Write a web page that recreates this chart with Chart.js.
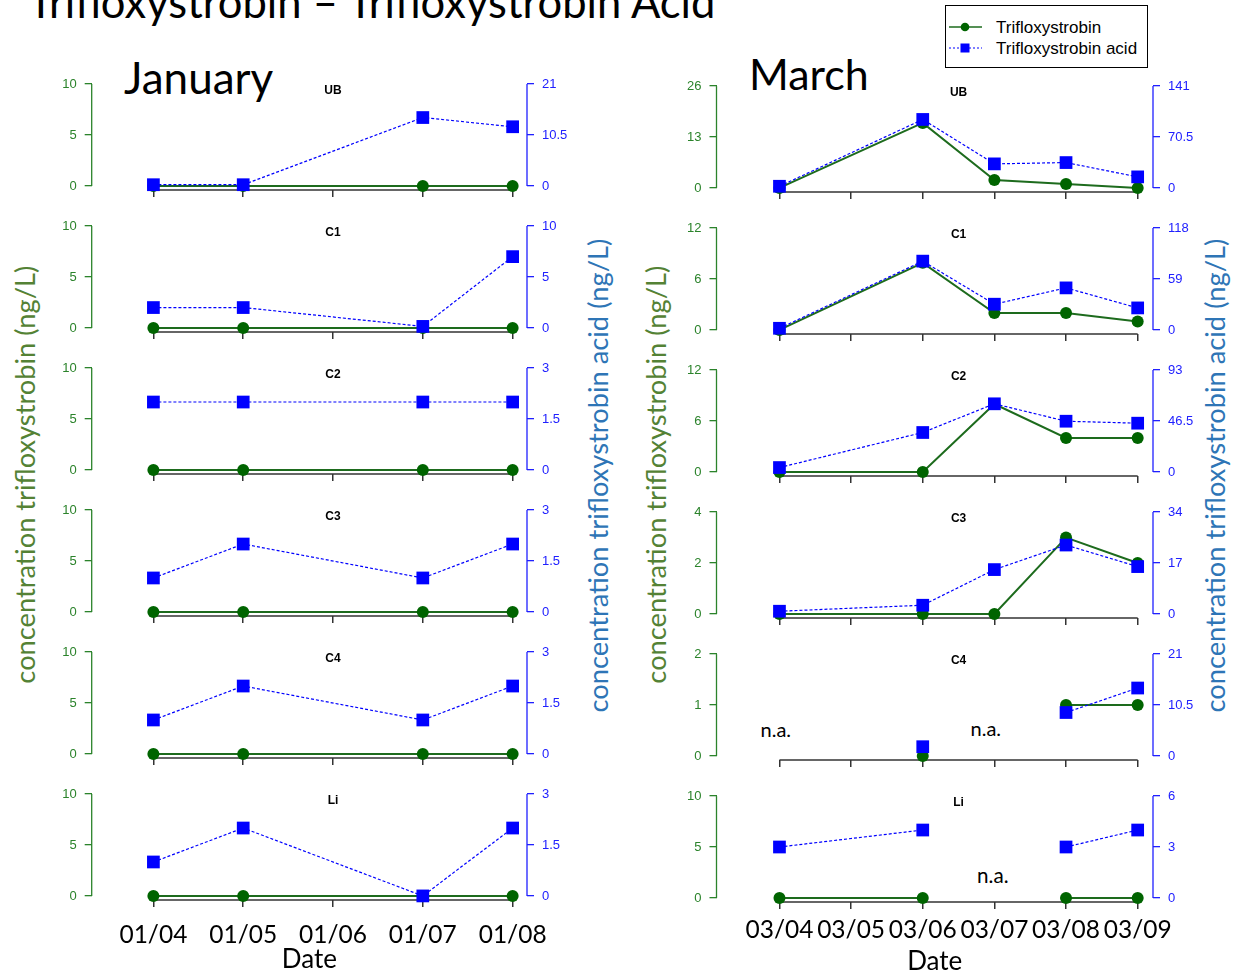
<!DOCTYPE html>
<html>
<head>
<meta charset="utf-8">
<script src="https://cdn.jsdelivr.net/npm/chart.js@4.4.1/dist/chart.umd.min.js"></script>
<style>
  body { margin: 0; width: 1235px; height: 976px; position: relative; overflow: hidden; background: #fff; }
  .panel { position: absolute; }
  .txt { position: absolute; white-space: nowrap; font-family: Lato, sans-serif; line-height: 1; color: #000; }
  .vert { transform: rotate(-90deg); }
  #legend { position: absolute; left: 945px; top: 5px; width: 203px; height: 63px; box-sizing: border-box;
            border: 1.3px solid #000; font-family: "Liberation Sans", Arial, sans-serif; font-size: 17px; }
  #legend div { position: absolute; left: 50px; white-space: nowrap; }
</style>
</head>
<body>

<div class="txt" id="mainTitle" style="font-size:40px">Trifloxystrobin – Trifloxystrobin Acid</div>
<div class="txt" id="janTitle" style="font-size:44px">January</div>
<div class="txt" id="marTitle" style="font-size:44px">March</div>
<div class="txt vert" id="yJanL" style="font-size:25px;color:#548235">concentration trifloxystrobin (ng/L)</div>
<div class="txt vert" id="yJanR" style="font-size:25px;color:#2e75b6">concentration trifloxystrobin acid (ng/L)</div>
<div class="txt vert" id="yMarL" style="font-size:25px;color:#548235">concentration trifloxystrobin (ng/L)</div>
<div class="txt vert" id="yMarR" style="font-size:25px;color:#2e75b6">concentration trifloxystrobin acid (ng/L)</div>
<div class="txt" id="na1" style="font-size:20px">n.a.</div>
<div class="txt" id="na2" style="font-size:20px">n.a.</div>
<div class="txt" id="na3" style="font-size:20px">n.a.</div>

<div id="legend">
  <svg width="201" height="61" style="position:absolute;left:0;top:0">
    <line x1="3" y1="21" x2="36" y2="21" stroke="#1d6b1d" stroke-width="1.5"/>
    <circle cx="19" cy="21" r="4.3" fill="#006400"/>
    <line x1="3" y1="42" x2="36" y2="42" stroke="#0000ff" stroke-width="1.2" stroke-dasharray="2,2"/>
    <rect x="14.5" y="37.5" width="9" height="9" fill="#0000ff"/>
  </svg>
  <div style="top:12px">Trifloxystrobin</div>
  <div style="top:33px">Trifloxystrobin acid</div>
</div>

<script>
const sites = ['UB', 'C1', 'C2', 'C3', 'C4', 'Li'];
const janDates = ['01/04', '01/05', '01/06', '01/07', '01/08'];
const marDates = ['03/04', '03/05', '03/06', '03/07', '03/08', '03/09'];

// axis maxima per site (left = trifloxystrobin, right = acid)
const janLeftMax = [10, 10, 10, 10, 10, 10];
const janRightMax = [21, 10, 3, 3, 3, 3];
const marLeftMax = [26, 12, 12, 4, 2, 10];
const marRightMax = [141, 118, 93, 34, 21, 6];

// null = no sample that day (line runs through), n.a. days are listed below (line breaks)
const janParent = [
  [0, 0, null, 0, 0],
  [0, 0, null, 0, 0],
  [0, 0, null, 0, 0],
  [0, 0, null, 0, 0],
  [0, 0, null, 0, 0],
  [0, 0, null, 0, 0]
];
const janAcid = [
  [0.25, 0.25, null, 14.1, 12.2],
  [2, 2, null, 0.15, 7],
  [2, 2, null, 2, 2],
  [1, 2, null, 1, 2],
  [1, 2, null, 1, 2],
  [1, 2, null, 0, 2]
];
const marParent = [
  [0, null, 16.6, 2, 1, 0],
  [0, null, 7.9, 2, 2, 1],
  [0, null, 0, 8, 4, 4],
  [0, null, 0, 0, 3, 2],
  [null, null, 0, null, 1, 1],
  [0, null, 0, null, 0, 0]
];
const marAcid = [
  [2.3, null, 94.8, 33.3, 35.1, 15.3],
  [1.9, null, 79.7, 29.8, 48.7, 25.5],
  [4, null, 36, 62.2, 46.3, 44.5],
  [0.9, null, 2.9, 14.8, 23, 15.8],
  [null, null, 1.9, null, 8.95, 14],
  [3, null, 4, null, 3, 4]
];
const janNA = [[], [], [], [], [], []];
const marNA = [[], [], [], [], [0, 3], [3]];

const greenAxis = '#2b832b';
const blueAxis = '#2020ff';
const greenLine = '#1d6b1d';
const greenPoint = '#006400';
const blueData = '#0000ff';
const tickFont = { family: '"Liberation Sans", Arial, sans-serif', size: 13 };

const months = [
  { dates: janDates, parent: janParent, acid: janAcid, leftMax: janLeftMax, rightMax: janRightMax, na: janNA,
    left: 20, width: 580, axisL: 91.7, axisR: 527, top0: 84, xMin: -0.687, xMax: 4.16, tickPad: 13 },
  { dates: marDates, parent: marParent, acid: marAcid, leftMax: marLeftMax, rightMax: marRightMax, na: marNA,
    left: 640, width: 590, axisL: 716.5, axisR: 1153, top0: 86, xMin: -0.879, xMax: 5.214, tickPad: 6 }
];

// R style axis lines (tick to tick) and the site name
const panelDecor = {
  id: 'panelDecor',
  beforeDatasetsDraw(chart, args, o) {
    const { ctx, chartArea: a, scales: s } = chart;
    const x0 = s.x.getPixelForValue(0), x1 = s.x.getPixelForValue(o.last);
    ctx.save();
    ctx.lineWidth = 1.5;
    ctx.strokeStyle = '#333';
    ctx.beginPath(); ctx.moveTo(x0, a.bottom); ctx.lineTo(x1, a.bottom); ctx.stroke();
    ctx.lineWidth = 1.3;
    ctx.strokeStyle = greenAxis;
    ctx.beginPath(); ctx.moveTo(a.left, s.yl.getPixelForValue(0)); ctx.lineTo(a.left, s.yl.getPixelForValue(o.lMax)); ctx.stroke();
    ctx.strokeStyle = blueAxis;
    ctx.beginPath(); ctx.moveTo(a.right, s.yr.getPixelForValue(0)); ctx.lineTo(a.right, s.yr.getPixelForValue(o.rMax)); ctx.stroke();
    ctx.fillStyle = '#000';
    ctx.font = 'bold 12px "Liberation Sans", Arial, sans-serif';
    ctx.textAlign = 'center';
    ctx.textBaseline = 'middle';
    ctx.fillText(o.name, (x0 + x1) / 2, a.top + 11);
    ctx.restore();
  }
};

function yAxis(max, pos, color, width) {
  return {
    type: 'linear', position: pos, min: -0.04 * max, max: 1.04 * max,
    afterBuildTicks: s => { s.ticks = [0, max / 2, max].map(v => ({ value: v })); },
    afterFit: s => { s.width = width; },
    grid: { drawOnChartArea: false, tickLength: 7, color: color, lineWidth: 1.3 },
    border: { display: false },
    ticks: { color: color, font: tickFont, padding: 8, callback: v => String(v) }
  };
}

function drawPanel(m, i) {
  const last = i === sites.length - 1;
  const T = m.top0 + 142 * i;
  const padTop = 20;
  const xH = last ? 76 : 10;
  const padBottom = last ? 0 : 10;

  const box = document.createElement('div');
  box.className = 'panel';
  box.style.left = m.left + 'px';
  box.style.top = (T - 4 - padTop) + 'px';
  box.style.width = m.width + 'px';
  box.style.height = (padTop + 110 + xH + padBottom) + 'px';
  const cv = document.createElement('canvas');
  box.appendChild(cv);
  document.body.appendChild(box);

  const na = m.na[i];
  const hideNA = c => (na.includes(c.p0DataIndex) || na.includes(c.p1DataIndex)) ? 'rgba(0,0,0,0)' : undefined;
  const pts = arr => arr.map((v, k) => ({ x: k, y: v }));
  const lMax = m.leftMax[i], rMax = m.rightMax[i];

  new Chart(cv, {
    type: 'line',
    data: {
      datasets: [
        { label: 'Trifloxystrobin acid', data: pts(m.acid[i]), yAxisID: 'yr', order: 0,
          borderColor: blueData, borderWidth: 1.2, borderDash: [3, 2],
          pointStyle: 'rect', pointRadius: 9, pointBackgroundColor: blueData, pointBorderWidth: 0,
          spanGaps: true, clip: false, segment: { borderColor: hideNA } },
        { label: 'Trifloxystrobin', data: pts(m.parent[i]), yAxisID: 'yl', order: 1,
          borderColor: greenLine, borderWidth: 2,
          pointStyle: 'circle', pointRadius: 6, pointBackgroundColor: greenPoint, pointBorderWidth: 0,
          spanGaps: true, clip: false, segment: { borderColor: hideNA } }
      ]
    },
    options: {
      responsive: true,
      maintainAspectRatio: false,
      animation: false,
      events: [],
      layout: { padding: { top: padTop, bottom: padBottom, left: 0, right: 0 } },
      plugins: {
        legend: { display: false },
        tooltip: { enabled: false },
        panelDecor: { name: sites[i], last: m.dates.length - 1, lMax: lMax, rMax: rMax }
      },
      scales: {
        x: {
          type: 'linear', min: m.xMin, max: m.xMax,
          afterBuildTicks: s => { s.ticks = m.dates.map((d, k) => ({ value: k })); },
          afterFit: s => { s.height = xH; },
          grid: { drawOnChartArea: false, tickLength: 7, color: '#333', lineWidth: 1.5 },
          border: { display: false },
          ticks: { display: last, autoSkip: false, maxRotation: 0, padding: m.tickPad, color: '#000',
                   font: { family: 'Lato', size: 24.5 }, callback: v => m.dates[v] },
          title: { display: last, text: 'Date', color: '#000', font: { family: 'Lato', size: 26 },
                   padding: { top: 0, bottom: 1 } }
        },
        yl: yAxis(lMax, 'left', greenAxis, m.axisL - m.left),
        yr: yAxis(rMax, 'right', blueAxis, m.left + m.width - m.axisR)
      }
    },
    plugins: [panelDecor]
  });
}

months.forEach(m => sites.forEach((s, i) => drawPanel(m, i)));

// size big text to the reference width, then place it by baseline or centre
function fitText(id, width, pos) {
  const el = document.getElementById(id);
  const fs = parseFloat(el.style.fontSize) * width / el.offsetWidth;
  el.style.fontSize = fs + 'px';
  if (pos.vert) {
    el.style.left = (pos.cx - el.offsetWidth / 2) + 'px';
    el.style.top = (pos.cy - el.offsetHeight / 2) + 'px';
  } else {
    el.style.left = (pos.cx !== undefined ? pos.cx - el.offsetWidth / 2 : pos.left) + 'px';
    el.style.top = (pos.base - 0.887 * fs) + 'px';
  }
}

fitText('mainTitle', 688, { left: 28, base: 18.5 });
fitText('janTitle', 149, { left: 124, base: 94 });
fitText('marTitle', 120, { left: 749, base: 91 });
fitText('yJanL', 418, { vert: true, cx: 25, cy: 474 });
fitText('yJanR', 474, { vert: true, cx: 598, cy: 475 });
fitText('yMarL', 418, { vert: true, cx: 656, cy: 474 });
fitText('yMarR', 474, { vert: true, cx: 1215, cy: 475 });
fitText('na1', 31, { cx: 776, base: 737 });
fitText('na2', 31, { cx: 986, base: 736 });
fitText('na3', 32, { cx: 993, base: 883 });
</script>
</body>
</html>
